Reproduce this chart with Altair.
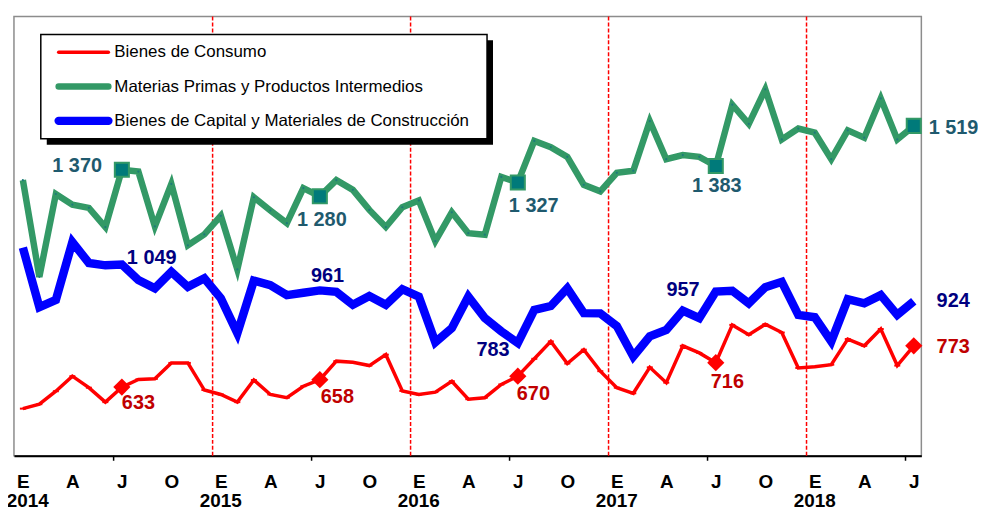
import json
import altair as alt
import pandas as pd

# ---------------- data ----------------
MONTHS = list(range(55))  # 0 = Enero 2014 ... 54 = Julio 2018
MONTH_LETTERS = ["E", "F", "M", "A", "M", "J", "J", "A", "S", "O", "N", "D"]
YEARS = [2014, 2015, 2016, 2017, 2018]
SERIES = [
    "Bienes de Consumo",
    "Materias Primas y Productos Intermedios",
    "Bienes de Capital y Materiales de Construcción",
]
consumo = [560, 575, 619, 670, 631, 582, 633, 659, 661, 715, 715, 623,
           608, 582, 657, 608, 597, 636, 658, 721, 717, 706, 743, 620,
           608, 616, 653, 592, 597, 642, 670, 729, 788, 713, 760, 687,
           631, 612, 700, 648, 773, 749, 716, 844, 811, 846, 818, 698,
           702, 709, 796, 773, 830, 706, 773]
materias = [1335, 1007, 1288, 1252, 1241, 1176, 1370, 1364, 1178, 1322, 1114, 1151,
            1214, 1032, 1277, 1232, 1189, 1308, 1280, 1335, 1302, 1234, 1176, 1243,
            1266, 1128, 1226, 1155, 1150, 1346, 1327, 1468, 1447, 1414, 1319, 1297,
            1360, 1367, 1535, 1406, 1420, 1414, 1383, 1591, 1526, 1643, 1473, 1510,
            1496, 1406, 1504, 1479, 1612, 1473, 1519]
capital = [1106, 904, 929, 1125, 1054, 1046, 1049, 996, 968, 1024, 973, 1002,
           934, 816, 994, 979, 945, 953, 961, 956, 912, 942, 912, 965,
           940, 785, 833, 940, 867, 822, 783, 895, 908, 968, 884, 883,
           840, 737, 805, 827, 892, 867, 957, 960, 917, 972, 990, 878,
           870, 788, 931, 917, 945, 878, 924]
LABEL_IDX = [6, 18, 30, 42, 54]
YEAR_BREAKS = [11.5, 23.5, 35.5, 47.5]
TICK_POS = [5.5, 17.5, 29.5, 41.5, 53.5]

# ---------------- layout / style ----------------
W, H = 913, 442
FONT = "Liberation Sans"
RED, GREEN, BLUE = "#FF0000", "#339966", "#0000FF"
RED_TXT, GREEN_TXT, BLUE_TXT = "#C00000", "#1F5A6E", "#000080"

x_scale = alt.Scale(domain=[-0.54, 54.46], nice=False, zero=False)
y_scale = alt.Scale(domain=[400, 1890], nice=False, zero=False)

# month tick labels (E, A, J, O)
label_arr = [MONTH_LETTERS[i % 12] if i % 3 == 0 else "" for i in range(55)]
label_expr = json.dumps(label_arr, ensure_ascii=False) + "[datum.value]"

x_axis = alt.Axis(
    values=list(range(0, 55, 3)), labelExpr=label_expr, ticks=False, grid=False,
    domainColor="black", domainWidth=2, labelFont=FONT, labelFontSize=19,
    labelFontWeight="bold", labelColor="black", labelPadding=17,
    labelOverlap=False, labelFlush=False, title=None,
)
X = alt.X("i:Q", scale=x_scale, axis=x_axis)
Y = alt.Y("v:Q", scale=y_scale, axis=None)


def frame(values):
    return pd.DataFrame({"i": MONTHS, "v": values})


one = pd.DataFrame({"k": [0]})

layers = []

# dashed year separators
layers.append(
    alt.Chart(pd.DataFrame({"i": YEAR_BREAKS}))
    .mark_rule(color=RED, strokeDash=[4, 2], strokeWidth=1.5)
    .encode(x=X)
)
# tick marks below axis
layers.append(
    alt.Chart(pd.DataFrame({"i": TICK_POS}))
    .mark_rule(color="black", strokeWidth=1.5)
    .encode(x=X, y=alt.value(H), y2=alt.value(H + 5))
)
# year labels under the "E" letters
years_df = pd.DataFrame({"i": [12 * k for k in range(len(YEARS))], "t": [str(y) for y in YEARS]})
layers.append(
    alt.Chart(years_df.iloc[[0]])
    .mark_text(align="center", baseline="top", dx=5, font=FONT, fontSize=19, fontWeight="bold", color="black")
    .encode(x=X, y=alt.value(H + 37), text="t:N")
)
layers.append(
    alt.Chart(years_df.iloc[1:])
    .mark_text(align="center", baseline="top", font=FONT, fontSize=19, fontWeight="bold", color="black")
    .encode(x=X, y=alt.value(H + 37), text="t:N")
)

# series lines
layers.append(alt.Chart(frame(consumo)).mark_line(color=RED, strokeWidth=3.5).encode(x=X, y=Y))
layers.append(
    alt.Chart(frame(consumo)).mark_point(shape="stroke", color=RED, size=36, strokeWidth=2, opacity=1).encode(x=X, y=Y)
)
layers.append(alt.Chart(frame(materias)).mark_line(color=GREEN, strokeWidth=6.5).encode(x=X, y=Y))
layers.append(
    alt.Chart(frame(materias)).mark_point(filled=True, color="#1C7A7A", size=5, opacity=1).encode(x=X, y=Y)
)
layers.append(alt.Chart(frame(capital)).mark_line(color=BLUE, strokeWidth=8.5).encode(x=X, y=Y))

# highlighted markers
red_pts = frame(consumo).iloc[LABEL_IDX]
green_pts = frame(materias).iloc[LABEL_IDX]
blue_pts = frame(capital).iloc[LABEL_IDX]
layers.append(
    alt.Chart(red_pts).mark_point(shape="diamond", filled=True, color=RED, size=300, opacity=1).encode(x=X, y=Y)
)
layers.append(
    alt.Chart(green_pts).mark_point(shape="square", filled=True, fill="#007A7A", stroke=GREEN,
                                    strokeWidth=2, size=200, opacity=1).encode(x=X, y=Y)
)


def fmt(v):
    return f"{v:,}".replace(",", " ")


def label(pts, k, color, align, dx, dy):
    d = pts.iloc[[k]].copy()
    d["t"] = d["v"].map(fmt)
    return (
        alt.Chart(d)
        .mark_text(align=align, baseline="middle", dx=dx, dy=dy, font=FONT, fontSize=20,
                   fontWeight="bold", color=color)
        .encode(x=X, y=Y, text="t:N")
    )


green_lab = [("right", -20, -4), ("center", 2, 24), ("center", 16, 24), ("center", 1, 20), ("left", 15, 2)]
blue_lab = [("left", 5, -6), ("left", -9, -14), ("center", -25, 7), ("center", -33, -2), ("left", 23, 0)]
red_lab = [("left", 0, 16), ("left", 1, 17), ("left", -1, 18), ("left", -5, 20), ("left", 23, 1)]
for k in range(5):
    layers.append(label(green_pts, k, GREEN_TXT, *green_lab[k]))
    layers.append(label(blue_pts, k, BLUE_TXT, *blue_lab[k]))
    layers.append(label(red_pts, k, RED_TXT, *red_lab[k]))

# legend box with shadow
layers.append(
    alt.Chart(one).mark_rect(color="black")
    .encode(x=alt.value(33), x2=alt.value(482), y=alt.value(24), y2=alt.value(129))
)
layers.append(
    alt.Chart(one).mark_rect(fill="white", stroke="black", strokeWidth=1.5)
    .encode(x=alt.value(27), x2=alt.value(476), y=alt.value(18), y2=alt.value(123))
)
leg_style = [(RED, 3.5), (GREEN, 6.5), (BLUE, 8.5)]
for k, name in enumerate(SERIES):
    yy = 36 + 34.5 * k
    col, sw = leg_style[k]
    layers.append(
        alt.Chart(one).mark_rule(color=col, strokeWidth=sw, strokeCap="round")
        .encode(x=alt.value(45), x2=alt.value(95), y=alt.value(yy))
    )
    layers.append(
        alt.Chart(pd.DataFrame({"name": [name]}))
        .mark_text(align="left", baseline="middle", font=FONT, fontSize=17, color="black")
        .encode(x=alt.value(101), y=alt.value(yy), text="name:N")
    )

chart = (
    alt.layer(*layers)
    .properties(width=W, height=H, autosize="none",
                padding={"left": 6, "top": 7, "right": 57, "bottom": 57})
    .configure_view(stroke="#8c8c8c", strokeWidth=1.5)
)

chart.save("out.html", embed_options={"renderer": "svg", "actions": False})
